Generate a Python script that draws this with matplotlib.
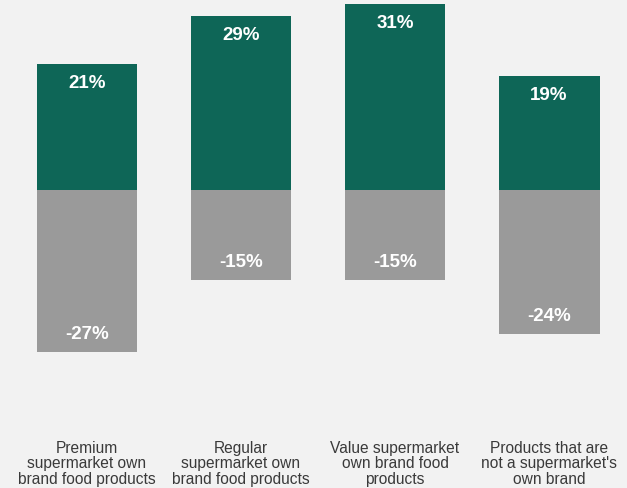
import matplotlib.pyplot as plt

categories = ['Premium\nsupermarket own\nbrand food products',
              'Regular\nsupermarket own\nbrand food products',
              'Value supermarket\nown brand food\nproducts',
              "Products that are\nnot a supermarket's\nown brand"]
positive = [21, 29, 31, 19]
negative = [-27, -15, -15, -24]

GREEN = '#0e6657'
GREY = '#9a9a9a'
BG = '#f2f2f2'

plt.rcParams['font.family'] = ['Liberation Sans', 'DejaVu Sans']

fig = plt.figure(figsize=(6.27, 4.88), dpi=100, facecolor=BG)
ax = fig.add_axes([0, 68 / 488, 1, 420 / 488])
ax.set_facecolor(BG)

x = list(range(len(categories)))
ax.bar(x, positive, width=0.655, color=GREEN)
ax.bar(x, negative, width=0.655, color=GREY)

for i, (p, n) in enumerate(zip(positive, negative)):
    ax.text(i, p - 3.2, f'{p}%', ha='center', va='center', color='white',
            fontsize=13.5, fontweight='bold')
    ax.text(i, n + 2.9, f'{n}%', ha='center', va='center', color='white',
            fontsize=13.5, fontweight='bold')

ax.set_xlim(-0.565, 3.506)
ax.set_ylim(-38.33, 31.67)
ax.set_xticks(x)
ax.set_xticklabels(categories, fontsize=11.2, color='#3a3a3a', linespacing=1.05)
ax.tick_params(axis='x', length=0, pad=15)
ax.set_yticks([])
for s in ax.spines.values():
    s.set_visible(False)

fig.savefig('out.png', dpi=100, facecolor=BG)
